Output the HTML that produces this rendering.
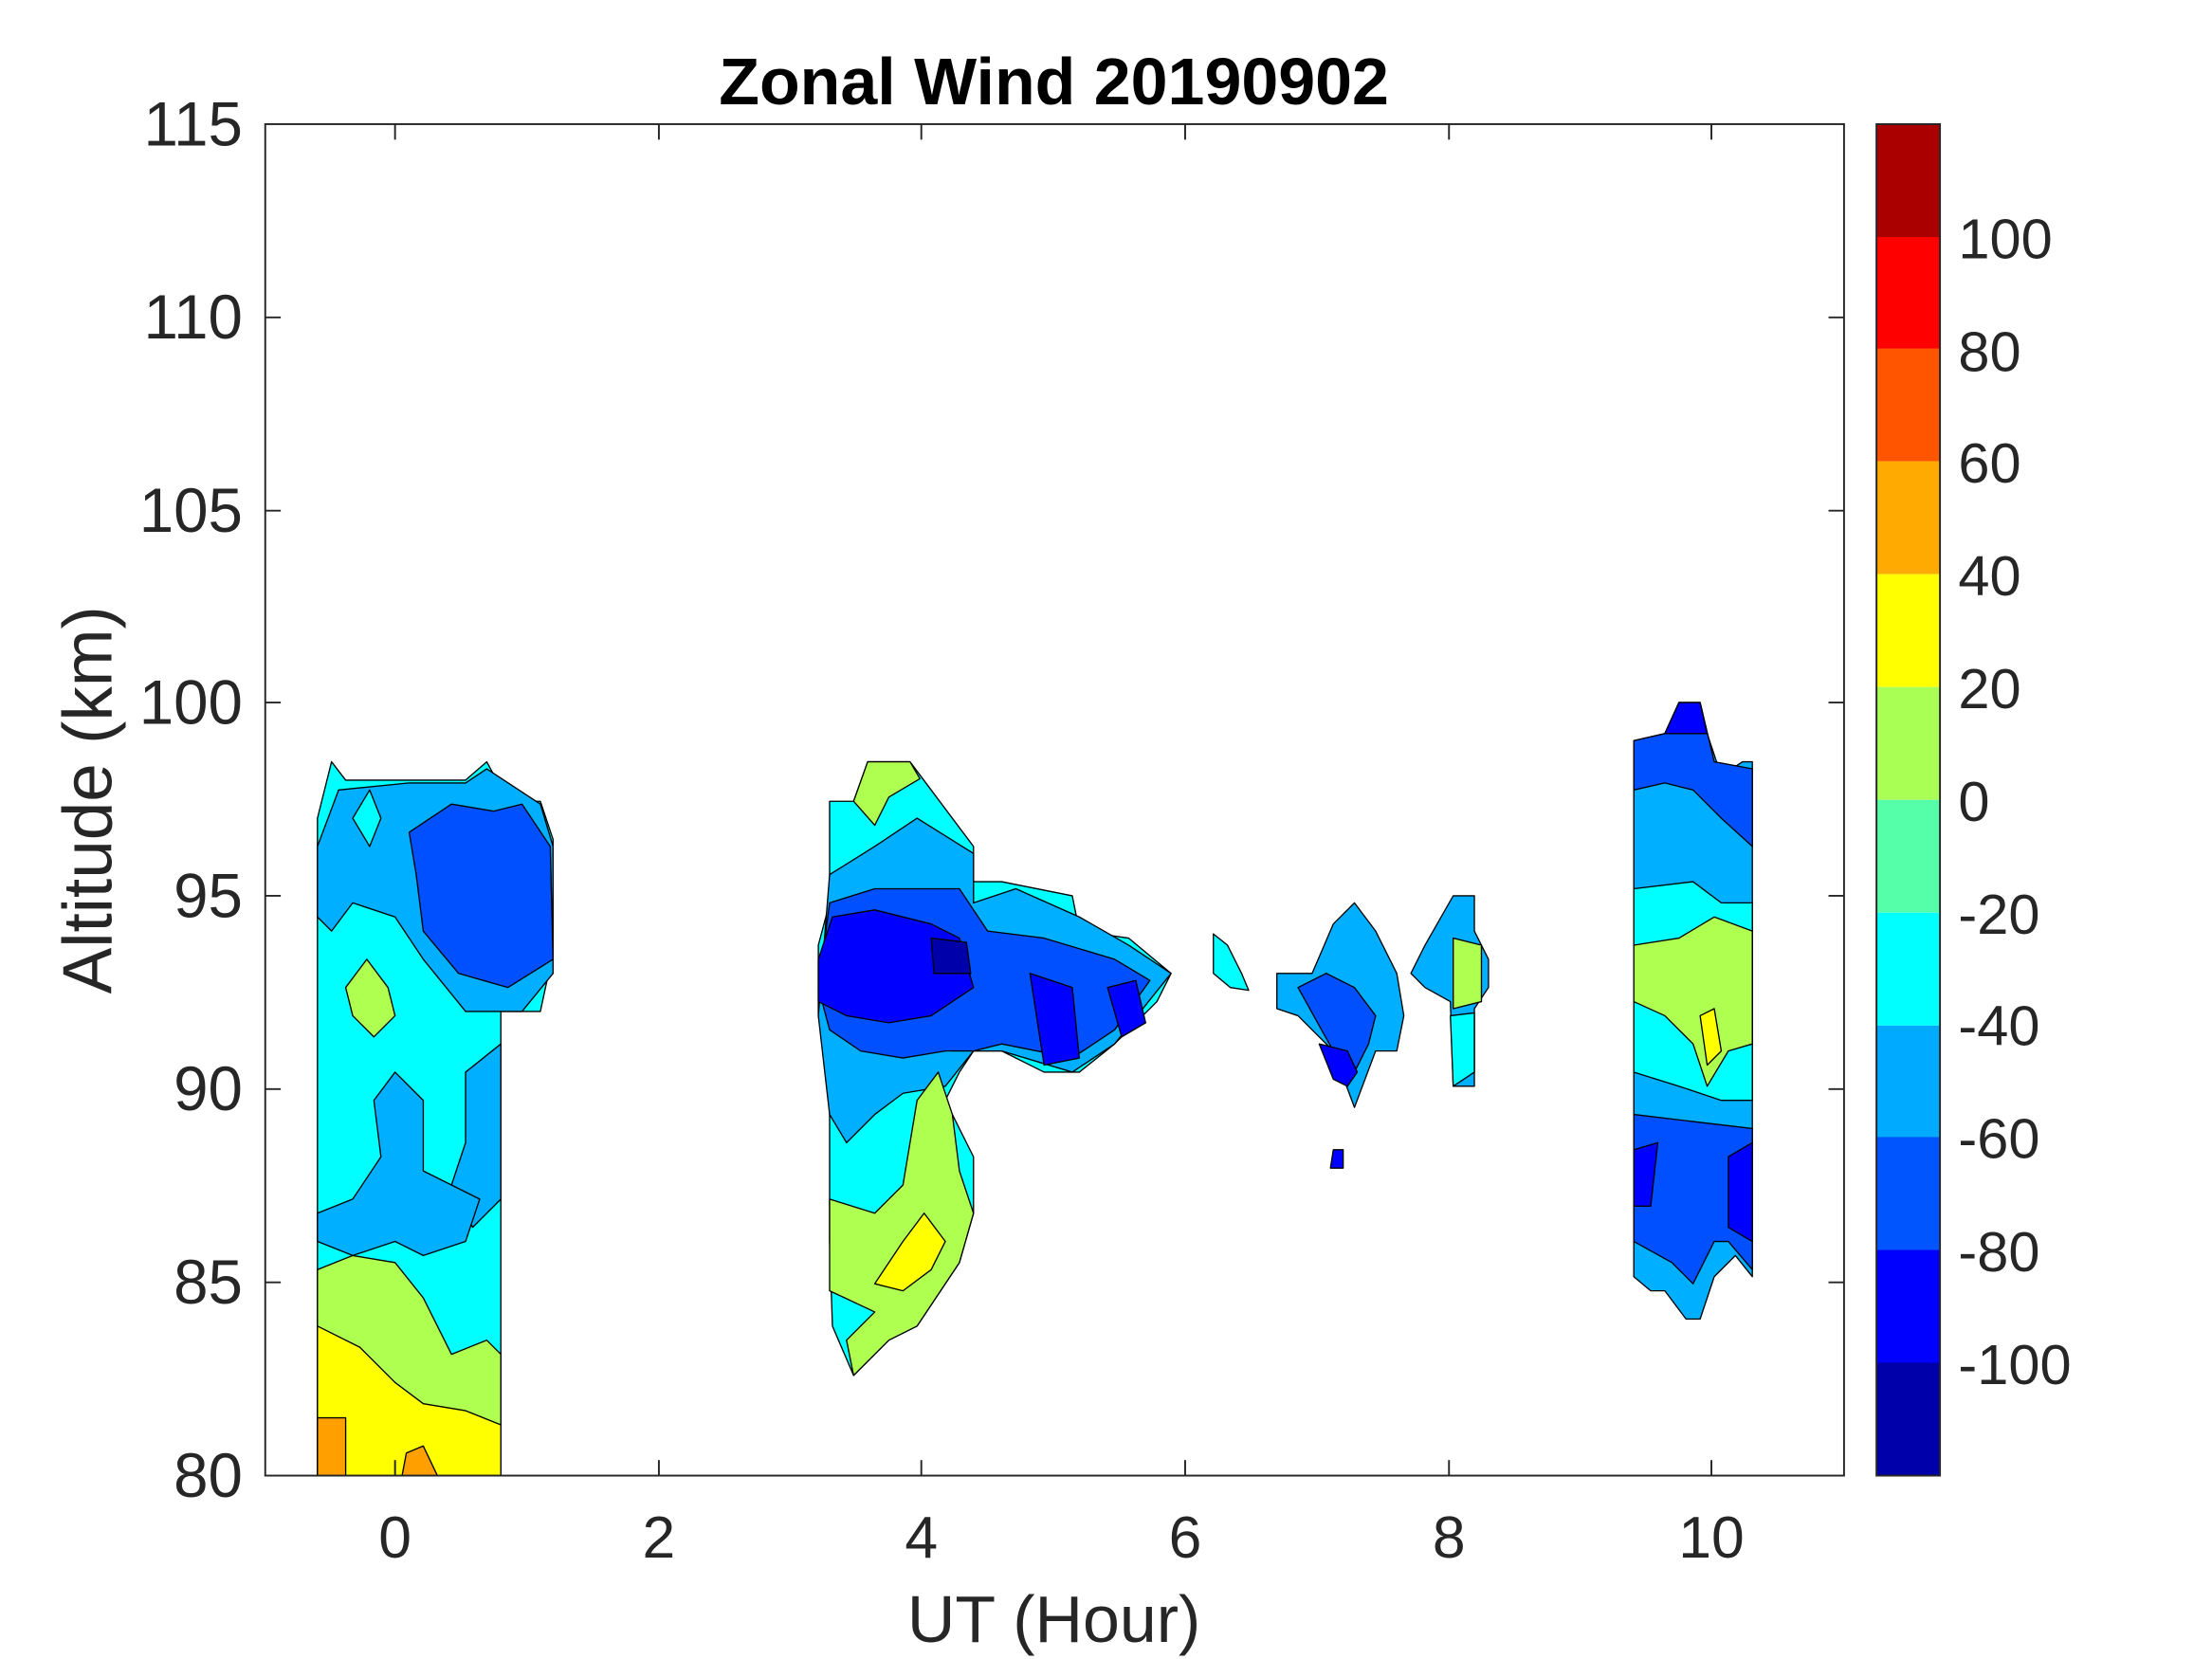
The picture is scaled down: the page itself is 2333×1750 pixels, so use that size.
<!DOCTYPE html>
<html><head><meta charset="utf-8"><style>
html,body{margin:0;padding:0;background:#fff;}
svg{display:block;}
text{font-family:"Liberation Sans",sans-serif;fill:#262626;}
</style></head><body>
<svg width="2333" height="1750" viewBox="0 0 1567.8 1176" preserveAspectRatio="none" xmlns="http://www.w3.org/2000/svg">
<g stroke="#000" stroke-width="0.9" stroke-linejoin="round">
<!-- Blob 1 -->
<polygon fill="#00ffff" points="225,580 235,540 245,553 330,553 345,540 360,568 383,568 392,595 392,675 383,717 355,717 355,1046 225,1046"/>
<polygon fill="#00afff" points="225,600 240,560 290,555 330,555 345,545 383,570 392,600 392,690 370,717 330,717 300,680 280,650 250,640 235,660 225,650"/>
<polygon fill="#0050ff" points="290,590 320,570 350,575 370,570 390,600 392,680 360,700 325,690 300,660 295,620"/>
<polygon fill="#00ffff" points="250,580 262,560 270,580 262,600"/>
<polygon fill="#afff50" points="245,700 260,680 275,700 280,720 265,735 250,720"/>
<polygon fill="#00afff" points="330,760 355,740 355,850 335,870 320,840 330,810"/>
<polygon fill="#00afff" points="225,860 250,850 270,820 265,780 280,760 300,780 300,830 320,840 340,850 330,880 300,890 280,880 250,890 225,880"/>
<polygon fill="#afff50" points="225,900 250,890 280,895 300,920 320,960 345,950 355,960 355,1046 225,1046"/>
<polygon fill="#ffff00" points="225,940 255,955 280,980 300,995 330,1000 355,1010 355,1046 225,1046"/>
<polygon fill="#ffa000" points="225,1005 245,1005 245,1046 225,1046"/>
<polygon fill="#ffa000" points="288,1030 300,1025 310,1046 285,1046"/>
<!-- Blob 2 -->
<polygon fill="#00ffff" points="588,568 605,568 615,540 645,540 690,600 690,625 710,625 760,635 765,660 800,665 830,690 820,710 790,740 765,760 740,760 710,745 690,745 680,760 670,780 690,820 690,860 680,895 650,940 630,950 605,975 590,940 588,880 588,770 580,720 580,670 588,640"/>
<polygon fill="#afff50" points="605,568 615,540 645,540 652,552 630,565 620,585"/>
<polygon fill="#00afff" points="588,620 620,600 650,580 690,605 690,640 720,630 765,650 800,670 830,690 790,740 760,760 710,745 690,745 670,770 640,775 620,790 600,810 588,790 580,720"/>
<polygon fill="#0050ff" points="588,640 620,630 650,630 680,630 700,660 740,665 790,680 815,695 790,730 760,750 710,740 690,745 670,745 640,750 610,745 588,730 580,700"/>
<polygon fill="#0000ff" points="590,650 620,645 660,655 680,665 690,700 660,720 630,725 600,720 580,710 580,680"/>
<polygon fill="#0000ff" points="730,690 760,700 765,750 740,755"/>
<polygon fill="#0000ff" points="785,700 805,695 812,725 795,735"/>
<polygon fill="#0000aa" points="660,665 685,668 688,690 662,690"/>
<polygon fill="#afff50" points="588,850 620,860 640,840 650,780 665,760 675,790 680,830 690,860 680,895 650,940 630,950 605,975 600,950 620,930 588,915"/>
<polygon fill="#ffff00" points="620,910 640,880 655,860 670,880 660,900 640,915"/>
<!-- Blob 3 -->
<polygon fill="#00ffff" points="860,662 870,670 880,690 885,702 872,700 860,690"/>
<polygon fill="#00afff" points="905,690 930,690 945,655 960,640 975,660 990,690 995,720 990,745 975,745 960,785 945,745 920,720 905,715"/>
<polygon fill="#0050ff" points="920,700 940,690 960,700 975,720 970,740 955,770 945,745"/>
<polygon fill="#0000ff" points="935,740 955,745 962,760 955,770 945,765"/>
<polygon fill="#00afff" points="1000,690 1010,670 1030,635 1045,635 1045,660 1055,680 1055,700 1045,715 1045,770 1030,770 1028,710 1010,700"/>
<polygon fill="#afff50" points="1030,665 1050,670 1050,710 1030,715"/>
<polygon fill="#00ffff" points="1028,720 1045,718 1045,760 1030,770"/>
<polygon fill="#0000ff" points="945,815 952,815 952,828 943,828"/>
<!-- Blob 4 -->
<polygon fill="#00afff" points="1158,525 1180,520 1190,498 1205,498 1210,520 1220,550 1235,540 1242,540 1242,905 1230,890 1215,905 1205,935 1195,935 1180,915 1170,915 1158,905"/>
<polygon fill="#0050ff" points="1158,525 1180,520 1190,498 1205,498 1215,540 1242,545 1242,600 1220,580 1200,560 1180,555 1158,560"/>
<polygon fill="#0000ff" points="1180,520 1190,498 1205,498 1210,520"/>
<polygon fill="#00ffff" points="1158,630 1200,625 1220,640 1242,640 1242,780 1220,780 1190,770 1158,760"/>
<polygon fill="#afff50" points="1158,670 1190,665 1215,650 1242,660 1242,740 1225,745 1210,770 1200,740 1180,720 1158,710"/>
<polygon fill="#ffff00" points="1205,720 1215,715 1220,745 1210,755"/>
<polygon fill="#0050ff" points="1158,790 1200,795 1242,800 1242,900 1225,880 1215,880 1200,910 1185,895 1158,880"/>
<polygon fill="#0000ff" points="1225,820 1242,810 1242,880 1225,870"/>
<polygon fill="#0000ff" points="1158,815 1175,810 1170,855 1158,855"/>
</g>
<!-- axes -->
<rect x="188" y="88" width="1119" height="958" fill="none" stroke="#262626" stroke-width="1.3"/>
<g stroke="#262626" stroke-width="1.3">
<line x1="280" y1="1046" x2="280" y2="1035"/><line x1="467" y1="1046" x2="467" y2="1035"/><line x1="653" y1="1046" x2="653" y2="1035"/><line x1="840" y1="1046" x2="840" y2="1035"/><line x1="1027" y1="1046" x2="1027" y2="1035"/><line x1="1213" y1="1046" x2="1213" y2="1035"/>
<line x1="280" y1="88" x2="280" y2="99"/><line x1="467" y1="88" x2="467" y2="99"/><line x1="653" y1="88" x2="653" y2="99"/><line x1="840" y1="88" x2="840" y2="99"/><line x1="1027" y1="88" x2="1027" y2="99"/><line x1="1213" y1="88" x2="1213" y2="99"/>
<line x1="188" y1="909" x2="199" y2="909"/><line x1="188" y1="772" x2="199" y2="772"/><line x1="188" y1="635" x2="199" y2="635"/><line x1="188" y1="498" x2="199" y2="498"/><line x1="188" y1="362" x2="199" y2="362"/><line x1="188" y1="225" x2="199" y2="225"/>
<line x1="1307" y1="909" x2="1296" y2="909"/><line x1="1307" y1="772" x2="1296" y2="772"/><line x1="1307" y1="635" x2="1296" y2="635"/><line x1="1307" y1="498" x2="1296" y2="498"/><line x1="1307" y1="362" x2="1296" y2="362"/><line x1="1307" y1="225" x2="1296" y2="225"/>
</g>
<g font-size="44" text-anchor="end">
<text x="172" y="1061">80</text><text x="172" y="924">85</text><text x="172" y="787">90</text><text x="172" y="650">95</text><text x="172" y="513">100</text><text x="172" y="377">105</text><text x="172" y="240">110</text><text x="172" y="103">115</text>
</g>
<g font-size="42" text-anchor="middle">
<text x="280" y="1104">0</text><text x="467" y="1104">2</text><text x="653" y="1104">4</text><text x="840" y="1104">6</text><text x="1027" y="1104">8</text><text x="1213" y="1104">10</text>
</g>
<text x="747" y="1164" font-size="47" text-anchor="middle">UT (Hour)</text>
<text x="0" y="0" font-size="49" text-anchor="middle" transform="translate(79,567) rotate(-90)">Altitude (km)</text>
<text x="747" y="74" font-size="47" font-weight="bold" text-anchor="middle" style="fill:#000">Zonal Wind 20190902</text>
<!-- colorbar -->
<g>
<rect x="1330" y="88" width="45" height="80" fill="#aa0000"/>
<rect x="1330" y="168" width="45" height="80" fill="#ff0000"/>
<rect x="1330" y="247" width="45" height="80" fill="#ff5500"/>
<rect x="1330" y="327" width="45" height="80" fill="#ffaa00"/>
<rect x="1330" y="407" width="45" height="80" fill="#ffff00"/>
<rect x="1330" y="487" width="45" height="80" fill="#aaff55"/>
<rect x="1330" y="567" width="45" height="80" fill="#55ffaa"/>
<rect x="1330" y="647" width="45" height="80" fill="#00ffff"/>
<rect x="1330" y="727" width="45" height="80" fill="#00aaff"/>
<rect x="1330" y="806" width="45" height="80" fill="#0055ff"/>
<rect x="1330" y="886" width="45" height="80" fill="#0000ff"/>
<rect x="1330" y="966" width="45" height="80" fill="#0000aa"/>
<rect x="1330" y="88" width="45" height="958" fill="none" stroke="#262626" stroke-width="1.3"/>
</g>
<g font-size="40" text-anchor="start">
<text x="1388" y="183">100</text><text x="1388" y="263">80</text><text x="1388" y="342">60</text><text x="1388" y="422">40</text><text x="1388" y="502">20</text><text x="1388" y="582">0</text><text x="1388" y="662">-20</text><text x="1388" y="741">-40</text><text x="1388" y="821">-60</text><text x="1388" y="901">-80</text><text x="1388" y="981">-100</text>
</g>
</svg>
</body></html>
